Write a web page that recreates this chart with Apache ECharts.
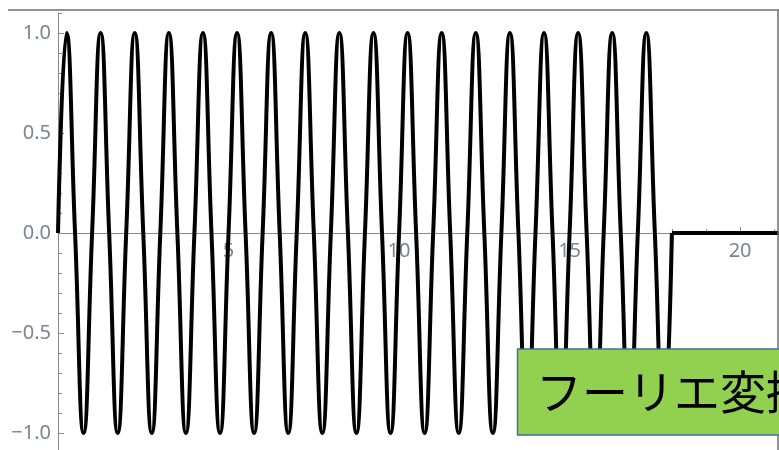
<!DOCTYPE html>
<html>
<head>
<meta charset="utf-8">
<script src="https://cdn.jsdelivr.net/npm/echarts@6/dist/echarts.min.js"></script>
<style>
  html, body { margin: 0; padding: 0; background: #ffffff; }
  #chart { width: 779px; height: 450px; }
</style>
</head>
<body>
<div id="chart"></div>
<script>
// Tone burst: quarter-period samples (zero crossings and extremes) of the oscillation
const burstX = [
  0, 0.25, 0.5, 0.75, 1, 1.25, 1.5, 1.75, 2, 2.25, 2.5, 2.75,
  3, 3.25, 3.5, 3.75, 4, 4.25, 4.5, 4.75, 5, 5.25, 5.5, 5.75,
  6, 6.25, 6.5, 6.75, 7, 7.25, 7.5, 7.75, 8, 8.25, 8.5, 8.75,
  9, 9.25, 9.5, 9.75, 10, 10.25, 10.5, 10.75, 11, 11.25, 11.5, 11.75,
  12, 12.25, 12.5, 12.75, 13, 13.25, 13.5, 13.75, 14, 14.25, 14.5, 14.75,
  15, 15.25, 15.5, 15.75, 16, 16.25, 16.5, 16.75, 17, 17.25, 17.5, 17.75,
  18
];
const burstY = [
  0, 1, 0, -1, 0, 1, 0, -1, 0, 1, 0, -1,
  0, 1, 0, -1, 0, 1, 0, -1, 0, 1, 0, -1,
  0, 1, 0, -1, 0, 1, 0, -1, 0, 1, 0, -1,
  0, 1, 0, -1, 0, 1, 0, -1, 0, 1, 0, -1,
  0, 1, 0, -1, 0, 1, 0, -1, 0, 1, 0, -1,
  0, 1, 0, -1, 0, 1, 0, -1, 0, 1, 0, -1,
  0
];
// Silent part after the burst
const tailX = [18, 21.2];
const tailY = [0, 0];

// Tick positions and labels
const xMajorTicks = [5, 10, 15, 20];
const xMinorTicks = [1, 2, 3, 4, 6, 7, 8, 9, 11, 12, 13, 14, 16, 17, 18, 19, 21];
const yMajorTicks = [-1, -0.5, 0, 0.5, 1];
const yMinorTicks = [-1.1, -0.9, -0.8, -0.7, -0.6, -0.4, -0.3, -0.2, -0.1,
                     0.1, 0.2, 0.3, 0.4, 0.6, 0.7, 0.8, 0.9, 1.1];
const captionText = 'フーリエ変換';

const axisGray = '#8a8a8a';
const labelGray = '#7a8592';
const X_MIN = 0, X_MAX = 21.14, Y_MIN = -1.1, Y_MAX = 1.1;

const zip = (xs, ys) => xs.map((x, i) => [x, ys[i]]);
const fmtY = v => (v < 0 ? '\u2212' + Math.abs(v).toFixed(1) : v.toFixed(1));

const chart = echarts.init(document.getElementById('chart'), null, { renderer: 'canvas' });

const hidden = { show: false };
const tickStyle = { color: axisGray, width: 1 };

chart.setOption({
  animation: false,
  backgroundColor: '#ffffff',
  grid: [
    // plotting area (full vertical range)
    { left: 58, width: 721, top: 13, height: 440, containLabel: false, outerBoundsMode: 'none' },
    // upper half: its bottom edge is the y = 0 line, where the horizontal axis sits
    { left: 58, width: 721, top: 13, height: 220, containLabel: false, outerBoundsMode: 'none' }
  ],
  xAxis: [
    { gridIndex: 0, type: 'value', min: X_MIN, max: X_MAX, show: false,
      axisLine: { onZero: false }, splitLine: hidden },
    { gridIndex: 1, type: 'value', min: X_MIN, max: X_MAX, position: 'bottom',
      axisLine: { show: true, onZero: false, lineStyle: tickStyle },
      axisTick: { show: true, inside: true, length: 6, customValues: xMajorTicks, lineStyle: tickStyle },
      axisLabel: { show: true, customValues: xMajorTicks, margin: 8,
                   color: labelGray, fontSize: 20, fontFamily: 'Noto Sans' },
      splitLine: hidden, z: 1 },
    { gridIndex: 1, type: 'value', min: X_MIN, max: X_MAX, position: 'bottom', offset: 0,
      axisLine: { show: false, onZero: false },
      axisTick: { show: true, inside: true, length: 4, customValues: xMinorTicks, lineStyle: tickStyle },
      axisLabel: hidden, splitLine: hidden, z: 1 }
  ],
  yAxis: [
    { gridIndex: 0, type: 'value', min: Y_MIN, max: Y_MAX, position: 'left',
      axisLine: { show: true, onZero: false, lineStyle: tickStyle },
      axisTick: { show: true, inside: true, length: 6, customValues: yMajorTicks, lineStyle: tickStyle },
      axisLabel: { show: true, customValues: yMajorTicks, margin: 7, formatter: fmtY,
                   color: labelGray, fontSize: 20, fontFamily: 'Noto Sans' },
      splitLine: hidden },
    { gridIndex: 0, type: 'value', min: Y_MIN, max: Y_MAX, position: 'left', offset: 0,
      axisLine: { show: false, onZero: false },
      axisTick: { show: true, inside: true, length: 4, customValues: yMinorTicks, lineStyle: tickStyle },
      axisLabel: hidden, splitLine: hidden },
    { gridIndex: 1, type: 'value', min: 0, max: Y_MAX, show: false,
      axisLine: { onZero: false }, splitLine: hidden }
  ],
  series: [
    {
      name: 'burst', type: 'line', xAxisIndex: 0, yAxisIndex: 0,
      data: zip(burstX, burstY), smooth: 0.5, showSymbol: false,
      lineStyle: { color: '#000000', width: 4 }, z: 3
    },
    {
      name: 'tail', type: 'line', xAxisIndex: 0, yAxisIndex: 0,
      data: zip(tailX, tailY), showSymbol: false,
      lineStyle: { color: '#000000', width: 4 }, z: 3
    }
  ],
  graphic: [
    // outer frame lines
    { type: 'line', shape: { x1: 8, y1: 10, x2: 779, y2: 10 },
      style: { stroke: '#6e6e6e', lineWidth: 1.5 }, z: 10 },
    { type: 'line', shape: { x1: 778, y1: 10, x2: 778, y2: 450 },
      style: { stroke: '#6e6e6e', lineWidth: 1.5 }, z: 10 },
    // caption box
    { type: 'rect', shape: { x: 517.5, y: 349, width: 320, height: 86 },
      style: { fill: '#92d050', stroke: '#41719c', lineWidth: 1.5 }, z: 20 },
    { type: 'text', x: 536, y: 392,
      style: { text: captionText, fill: '#000000', fontSize: 46,
               fontFamily: '"Noto Sans CJK JP"', verticalAlign: 'middle', align: 'left' },
      z: 21 }
  ]
});
</script>
</body>
</html>
